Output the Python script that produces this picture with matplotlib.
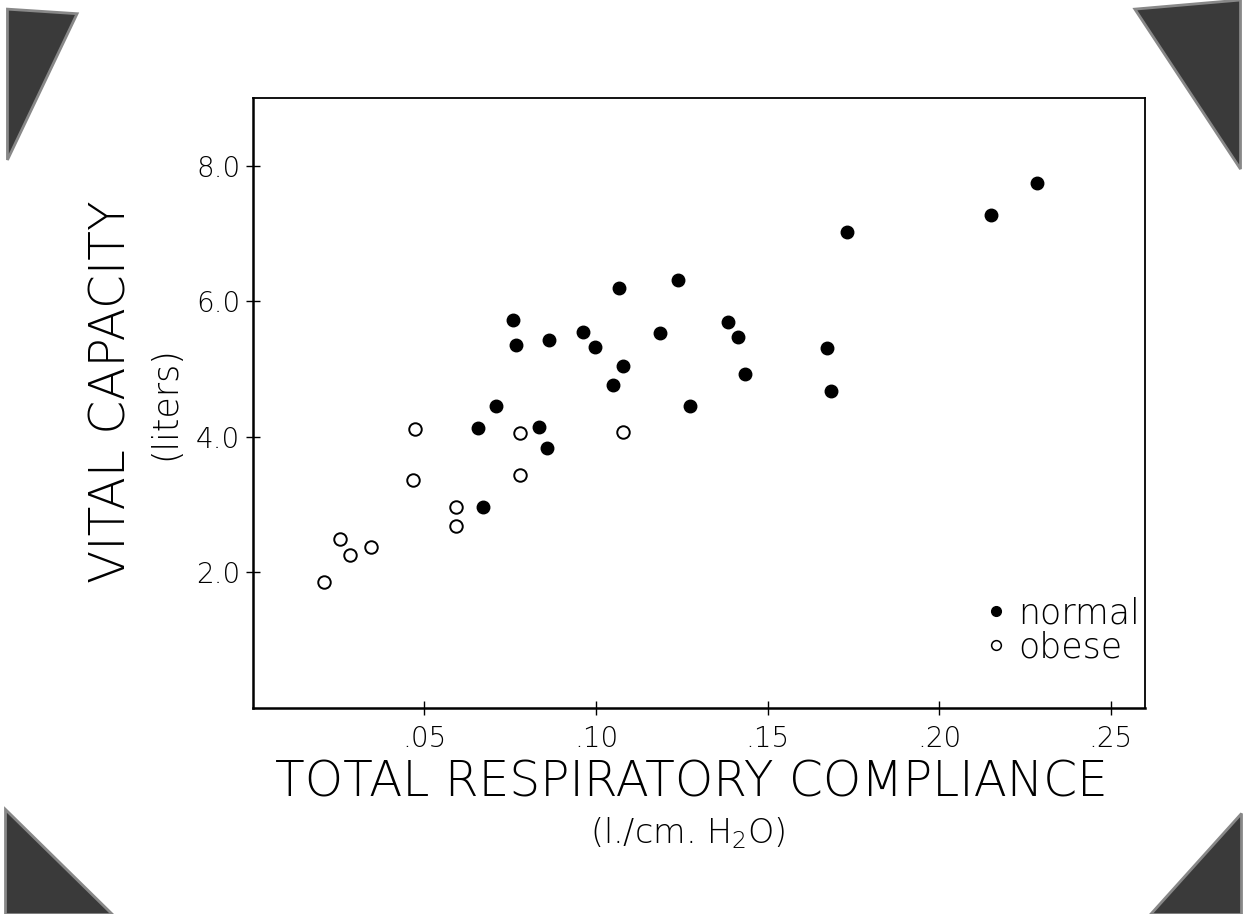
import matplotlib
matplotlib.use("Agg")
import matplotlib.pyplot as plt
from matplotlib.patches import Polygon
from matplotlib.lines import Line2D

plt.rcParams["font.family"] = ["DejaVu Sans"]
plt.rcParams["font.weight"] = "light"
plt.rcParams["mathtext.default"] = "regular"

# valores
normal_x = [0.0671, 0.0656, 0.0708, 0.0758, 0.0768, 0.0833, 0.0858, 0.0864,
            0.0961, 0.0996, 0.1049, 0.1068, 0.1078, 0.1188, 0.1239, 0.1275,
            0.1386, 0.1414, 0.1433, 0.1674, 0.1685, 0.1731, 0.2151, 0.2284]
normal_y = [2.97, 4.13, 4.46, 5.72, 5.35, 4.14, 3.83, 5.43,
            5.54, 5.32, 4.77, 6.19, 5.05, 5.53, 6.32, 4.45,
            5.70, 5.48, 4.93, 5.31, 4.68, 7.02, 7.28, 7.75]

obese_x = [0.0209, 0.0253, 0.0284, 0.0344, 0.0466, 0.0472, 0.0591, 0.0593,
           0.0778, 0.0780, 0.1078]
obese_y = [1.86, 2.49, 2.25, 2.37, 3.37, 4.12, 2.97, 2.69,
           3.44, 4.06, 4.07]

x_ticks = [0.05, 0.10, 0.15, 0.20, 0.25]
x_tick_labels = [".05", ".10", ".15", ".20", ".25"]
y_ticks = [2.0, 4.0, 6.0, 8.0]
y_tick_labels = ["2.0", "4.0", "6.0", "8.0"]

fig = plt.figure(figsize=(12.43, 9.14), dpi=100)
fig.patch.set_facecolor("white")

# esquinas de la foto
esquinas = [
    [(0.006, 0.99), (0.062, 0.985), (0.006, 0.825)],
    [(0.913, 0.99), (0.998, 1.0), (0.998, 0.815)],
    [(0.004, 0.115), (0.004, 0.0), (0.09, 0.0)],
    [(0.998, 0.11), (0.998, 0.0), (0.925, 0.0)],
]
for pts in esquinas:
    fig.patches.append(Polygon(pts, closed=True, transform=fig.transFigure,
                               facecolor="#3a3a3a", edgecolor="#888888",
                               linewidth=2))

ax = fig.add_axes([0.2033, 0.2254, 0.7179, 0.6674])

ax.plot(normal_x, normal_y, "o", color="black", markersize=9, label="normal")
ax.plot(obese_x, obese_y, "o", markerfacecolor="white", markeredgecolor="black",
        markeredgewidth=1.4, markersize=9, label="obese")

ax.set_xlim(0, 0.26)
ax.set_ylim(0, 9.0)
ax.set_xticks(x_ticks)
ax.set_xticklabels(x_tick_labels)
ax.set_yticks(y_ticks)
ax.set_yticklabels(y_tick_labels)
ax.tick_params(direction="inout", length=10, width=1.0, labelsize=20, pad=4)
ax.tick_params(axis="x", pad=7)
for lado in ["left", "bottom"]:
    ax.spines[lado].set_linewidth(1.8)
for lado in ["top", "right"]:
    ax.spines[lado].set_linewidth(1.3)

manijas = [
    Line2D([], [], marker="o", linestyle="", color="black", markersize=7),
    Line2D([], [], marker="o", linestyle="", markerfacecolor="white",
           markeredgecolor="black", markeredgewidth=1.1, markersize=7),
]
ax.legend(manijas, ["normal", "obese"], loc="lower right",
          bbox_to_anchor=(1.018, 0.037), frameon=False, fontsize=25,
          handlelength=0.6, handletextpad=0.35, labelspacing=0.0,
          borderpad=0.1)

fig.text(0.556, 0.144, "TOTAL RESPIRATORY COMPLIANCE", ha="center", va="center",
         fontsize=35)
fig.text(0.553, 0.088, "(l./cm. H$_2$O)", ha="center", va="center",
         fontsize=24)
fig.text(0.090, 0.571, "VITAL CAPACITY", ha="center", va="center",
         rotation=90, fontsize=35)
fig.text(0.133, 0.559, "(liters)", ha="center", va="center",
         rotation=90, fontsize=25)

fig.savefig("out.png", dpi=100, facecolor="white")
